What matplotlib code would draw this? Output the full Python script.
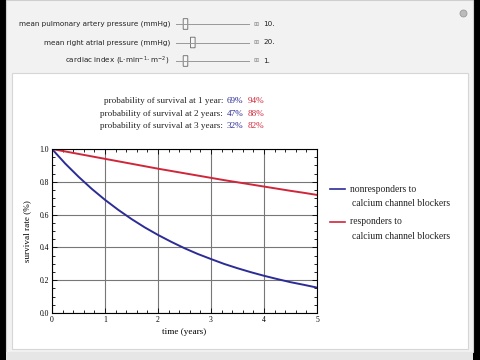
import matplotlib.pyplot as plt
from matplotlib.patches import Rectangle, FancyBboxPatch
from matplotlib.ticker import MultipleLocator

# survival curves, every quarter year
t = [0, 0.25, 0.5, 0.75, 1, 1.25, 1.5, 1.75, 2, 2.25, 2.5, 2.75, 3,
     3.25, 3.5, 3.75, 4, 4.25, 4.5, 4.75, 5]
nonresp = [1.0, 0.911, 0.831, 0.757, 0.690, 0.629, 0.573, 0.522, 0.476, 0.434,
           0.395, 0.360, 0.329, 0.299, 0.273, 0.249, 0.227, 0.207, 0.188, 0.172, 0.155]
resp = [1.0, 0.985, 0.970, 0.955, 0.940, 0.925, 0.910, 0.895, 0.880, 0.866,
        0.852, 0.838, 0.824, 0.810, 0.797, 0.784, 0.771, 0.758, 0.745, 0.733, 0.720]

slider_labels = ["mean pulmonary artery pressure (mmHg)",
                 "mean right atrial pressure (mmHg)",
                 r"cardiac index (L$\cdot$min$^{-1}\!\cdot$m$^{-2}$)"]
slider_values = ["10.", "20.", "1."]
slider_pos = [0.13, 0.23, 0.13]

years = [1, 2, 3]
p_non = ["69%", "47%", "32%"]
p_resp = ["94%", "88%", "82%"]

blue = "#2c2c96"
red = "#d0263a"

W, H = 480, 360
fig = plt.figure(figsize=(4.8, 3.6), dpi=100)
fig.patch.set_facecolor("black")
bg = fig.add_axes([0, 0, 1, 1])
bg.set_xlim(0, W)
bg.set_ylim(H, 0)
bg.axis("off")

# panel frame
bg.add_patch(Rectangle((6, 0), 467, 352, facecolor="#f2f2f2", edgecolor="#cfcfcf", lw=0.8))
bg.add_patch(Rectangle((6, 352), 467, 8, facecolor="#e6e6e6", edgecolor="none"))
bg.add_patch(Rectangle((12, 73), 456, 276, facecolor="white", edgecolor="#d6d6d6", lw=0.8))
bg.plot(463, 13, marker="o", ms=5, mfc="#bbbbbb", mec="#999999", mew=0.6)

# sliders
for i, (lab, val, pos) in enumerate(zip(slider_labels, slider_values, slider_pos)):
    y = 24 + i * 18.5
    bg.text(170, y, lab, ha="right", va="center", fontsize=5.2,
            family="DejaVu Sans", color="#222222")
    bg.plot([176, 249], [y, y], color="#999999", lw=0.7)
    x = 176 + pos * 73
    bg.add_patch(FancyBboxPatch((x - 2, y - 5), 4, 10, boxstyle="round,pad=0.3",
                                facecolor="#f7f7f7", edgecolor="#666666", lw=0.6))
    bg.text(256, y, "\u229e", ha="center", va="center", fontsize=4.5, color="#888888")
    bg.text(263, y, val, ha="left", va="center", fontsize=5.2,
            family="DejaVu Sans", color="#222222")

# probability table
for i, yr in enumerate(years):
    y = 101 + i * 12.5
    unit = "year" if yr == 1 else "years"
    bg.text(223, y, f"probability of survival at {yr} {unit}:", ha="right", va="center",
            fontsize=6.6, family="Liberation Serif", color="#222222")
    bg.text(227, y, p_non[i], ha="left", va="center", fontsize=6.6,
            family="Liberation Serif", color=blue)
    bg.text(248, y, p_resp[i], ha="left", va="center", fontsize=6.6,
            family="Liberation Serif", color=red)

# legend
for i, (lab, col) in enumerate([("nonresponders to", blue), ("responders to", red)]):
    y = 189 + i * 33
    bg.plot([330, 345], [y, y], color=col, lw=1.2)
    bg.text(350, y, lab, ha="left", va="center", fontsize=6.9,
            family="Liberation Serif", color="#222222")
    bg.text(352, y + 14.5, "calcium channel blockers", ha="left", va="center",
            fontsize=6.9, family="Liberation Serif", color="#222222")

# main plot
ax = fig.add_axes([52 / W, 1 - 313 / H, (317 - 52) / W, (313 - 149) / H])
ax.plot(t, nonresp, color=blue, lw=1.4)
ax.plot(t, resp, color=red, lw=1.4)
ax.set_xlim(0, 5)
ax.set_ylim(0, 1)
ax.set_xticks([0, 1, 2, 3, 4, 5])
ax.set_xticklabels(["0", "1", "2", "3", "4", "5"], family="Liberation Serif")
ax.set_yticks([0, 0.2, 0.4, 0.6, 0.8, 1.0])
ax.set_yticklabels(["0.0", "0.2", "0.4", "0.6", "0.8", "1.0"], family="Liberation Serif")
ax.xaxis.set_minor_locator(MultipleLocator(0.2))
ax.yaxis.set_minor_locator(MultipleLocator(0.05))
ax.grid(True, which="major", color="#777777", lw=0.8)
ax.tick_params(which="both", direction="in", top=True, right=True, labelsize=5.5,
               width=0.6, pad=2)
ax.tick_params(which="major", length=3.5)
ax.tick_params(which="minor", length=2)
for s in ax.spines.values():
    s.set_linewidth(0.8)
ax.set_xlabel("time (years)", fontsize=6.6, family="Liberation Serif", labelpad=3)
ax.set_ylabel("survival rate (%)", fontsize=6.6, family="Liberation Serif", labelpad=6)

fig.savefig("out.png", dpi=100, facecolor=fig.get_facecolor())
